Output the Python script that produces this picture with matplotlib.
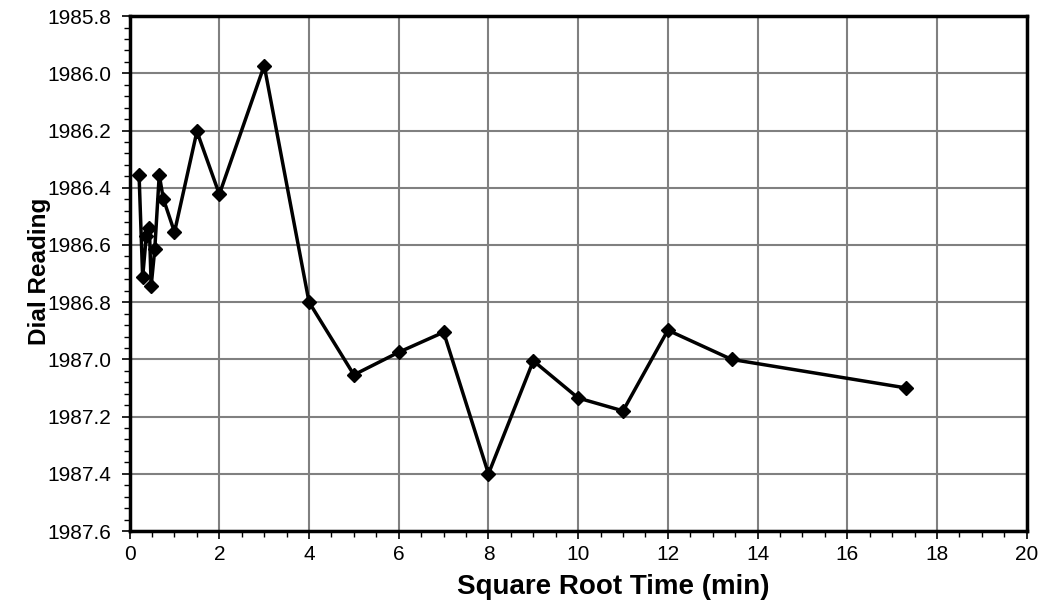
import numpy as np
import matplotlib.pyplot as plt
from matplotlib.ticker import MultipleLocator, FormatStrFormatter

plt.rcParams['font.family'] = ['Liberation Sans', 'DejaVu Sans']

# square root of time (min) and dial reading
sqrt_time = [0.21, 0.29, 0.37, 0.44, 0.48, 0.56, 0.66, 0.75, 1.0, 1.5, 2.0, 3.0,
             4.0, 5.0, 6.0, 7.0, 8.0, 9.0, 10.0, 11.0, 12.0, 13.42, 17.32]
dial = [1986.355, 1986.713, 1986.57, 1986.54, 1986.743, 1986.615, 1986.355, 1986.438,
        1986.555, 1986.203, 1986.423, 1985.973, 1986.80, 1987.054, 1986.975, 1986.905,
        1987.40, 1987.005, 1987.135, 1987.18, 1986.898, 1987.0, 1987.10]


def plot_dial():
    fig = plt.figure(figsize=(10.38, 6.09), dpi=100)
    ax = fig.add_axes([0.1249, 0.128, 0.8642, 0.8456])

    ax.plot(sqrt_time, dial, color='black', linewidth=2.5, marker='D',
            markersize=7, zorder=3)

    ax.set_xlim(0, 20)
    ax.set_ylim(1987.6, 1985.8)
    ax.xaxis.set_major_locator(MultipleLocator(2))
    ax.xaxis.set_minor_locator(MultipleLocator(0.5))
    ax.yaxis.set_major_locator(MultipleLocator(0.2))
    ax.yaxis.set_minor_locator(MultipleLocator(0.04))
    ax.yaxis.set_major_formatter(FormatStrFormatter('%.1f'))

    ax.grid(True, which='major', color='#808080', linewidth=1.5)
    for s in ax.spines.values():
        s.set_linewidth(2.5)
        s.set_color('black')
    ax.tick_params(which='major', direction='out', length=6, width=1.2,
                   labelsize=15, pad=4)
    ax.tick_params(axis='y', which='major', pad=7)
    ax.tick_params(which='minor', direction='out', length=4, width=1.0)

    ax.set_xlabel('Square Root Time (min)', fontsize=20, fontweight='bold',
                  va='center')
    ax.set_ylabel('Dial Reading', fontsize=17.5, fontweight='bold', va='center')
    ax.xaxis.set_label_coords(0.539, -0.108)
    ax.yaxis.set_label_coords(-0.1, 0.505)

    fig.savefig('out.png', dpi=100)


if __name__ == "__main__":
    plot_dial()
